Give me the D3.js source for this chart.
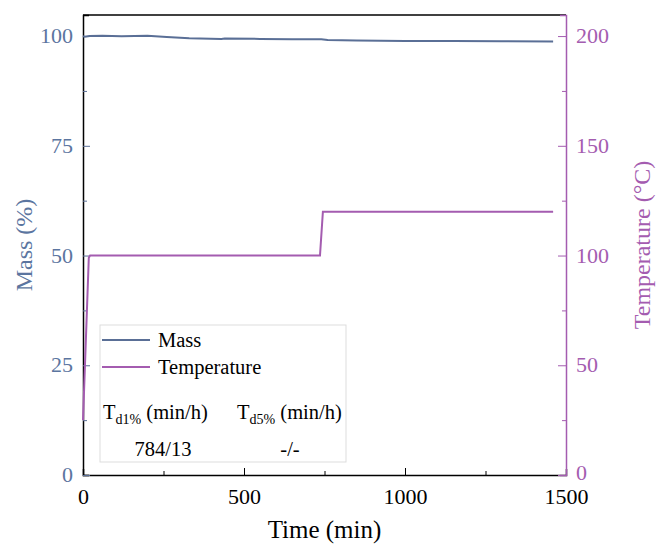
<!DOCTYPE html>
<html>
<head>
<meta charset="utf-8">
<script src="https://cdn.jsdelivr.net/npm/d3@7"></script>
<style>
  body { margin: 0; background: #fff; }
  text { font-family: "Liberation Serif", "Times New Roman", serif; }
</style>
</head>
<body>
<div id="viz"></div>
<script>
// series
var massTime = [0, 5, 20, 60, 120, 200, 260, 330, 430, 440, 550, 650, 740, 760, 850, 1000, 1150, 1300, 1460],
    massVal = [100.0, 99.85, 100.0, 100.1, 99.95, 100.05, 99.8, 99.5, 99.35, 99.45, 99.35, 99.3, 99.25, 99.1, 99.0, 98.9, 98.85, 98.8, 98.75],
    tempTime = [0, 18, 22, 736, 745, 1460],
    tempVal = [25, 99, 100, 100, 120, 120],
    xTicks = [0, 500, 1000, 1500],
    massTicks = [0, 25, 50, 75, 100],
    tempTicks = [0, 50, 100, 150, 200];

var W = 656, H = 545,
    m = { left: 83, right: 90, top: 15, bottom: 70 },
    iw = W - m.left - m.right, ih = H - m.top - m.bottom,
    blue = '#5a6f96', blueTxt = '#5b75a0', purple = '#a45cb0';

var svg = d3.select('#viz').append('svg').attr('width', W).attr('height', H);
var g = svg.append('g').attr('transform', 'translate(' + m.left + ',' + m.top + ')');

var x = d3.scaleLinear().domain([0, 1500]).range([0, iw]),
    yM = d3.scaleLinear().domain([0, 104.8]).range([ih, 0]),
    yT = d3.scaleLinear().domain([0, 209.6]).range([ih, 0]);

// frame top
g.append('line').attr('x1', 0).attr('x2', iw).attr('y1', 0).attr('y2', 0)
    .attr('stroke', '#000').attr('stroke-width', 1.5);

// bottom axis
var xAx = g.append('g').attr('transform', 'translate(0,' + ih + ')');
xAx.call(d3.axisBottom(x).tickValues(d3.range(0, 1501, 250)).tickSize(-6).tickFormat(''));
xAx.selectAll('.tick line').attr('y2', function (d) { return d % 500 ? -4 : -7; });
xAx.selectAll('.tick').filter(function (d) { return xTicks.indexOf(d) >= 0; }).append('text')
    .attr('y', 29).attr('text-anchor', 'middle').attr('fill', '#000')
    .style('font-size', '22px').text(function (d) { return d; });

// left axis
var lAx = g.append('g');
lAx.call(d3.axisLeft(yM).tickValues(d3.range(0, 101, 12.5)).tickSize(-6).tickFormat(''));
lAx.selectAll('.tick line').attr('stroke', blue).attr('x2', function (d) { return d % 25 ? 4 : 7; });
lAx.selectAll('.tick').filter(function (d) { return massTicks.indexOf(d) >= 0; }).append('text')
    .attr('x', -10).attr('dy', '0.3em').attr('text-anchor', 'end').attr('fill', blueTxt)
    .style('font-size', '22px').text(function (d) { return d; });

// right axis
var rAx = g.append('g').attr('transform', 'translate(' + iw + ',0)');
rAx.call(d3.axisRight(yT).tickValues(d3.range(0, 201, 25)).tickSize(-6).tickFormat(''));
rAx.selectAll('.tick line').attr('stroke', purple).attr('x2', function (d) { return d % 50 ? -4 : -8; });
rAx.selectAll('.tick').filter(function (d) { return tempTicks.indexOf(d) >= 0; }).append('text')
    .attr('x', 10).attr('dy', function (d) { return d === 0 ? '0.2em' : '0.3em'; })
    .attr('text-anchor', 'start').attr('fill', purple)
    .style('font-size', '22px').text(function (d) { return d; });

xAx.select('.domain').attr('stroke', '#000').attr('stroke-width', 1.5);
lAx.select('.domain').attr('stroke', '#000').attr('stroke-width', 1.5);
rAx.select('.domain').attr('stroke', purple).attr('stroke-width', 1.5);

// lines
var mLine = d3.line().x(function (d, i) { return x(massTime[i]); }).y(function (d) { return yM(d); }),
    tLine = d3.line().x(function (d, i) { return x(tempTime[i]); }).y(function (d) { return yT(d); });

g.append('path').attr('d', tLine(tempVal)).attr('fill', 'none').attr('stroke', purple).attr('stroke-width', 2);
g.append('path').attr('d', mLine(massVal)).attr('fill', 'none').attr('stroke', blue).attr('stroke-width', 2);

// legend box
var lg = svg.append('g').attr('transform', 'translate(100,325)');
lg.append('rect').attr('width', 246).attr('height', 137).attr('fill', '#fff').attr('stroke', '#ddd');
lg.append('line').attr('x1', 2).attr('x2', 50).attr('y1', 15).attr('y2', 15).attr('stroke', blue).attr('stroke-width', 2);
lg.append('text').attr('x', 58).attr('y', 22).style('font-size', '20.5px').text('Mass');
lg.append('line').attr('x1', 2).attr('x2', 50).attr('y1', 42).attr('y2', 42).attr('stroke', purple).attr('stroke-width', 2);
lg.append('text').attr('x', 58).attr('y', 49).style('font-size', '20.5px').text('Temperature');

function tdLabel(tx, sub) {
    var t = lg.append('text').attr('x', tx).attr('y', 94).style('font-size', '20.5px');
    t.append('tspan').text('T');
    t.append('tspan').attr('dy', 5).style('font-size', '14px').text(sub);
    t.append('tspan').attr('dy', -5).text(' (min/h)');
}
tdLabel(3, 'd1%');
tdLabel(137, 'd5%');
lg.append('text').attr('x', 63).attr('y', 131).attr('text-anchor', 'middle').style('font-size', '20.5px').text('784/13');
lg.append('text').attr('x', 190).attr('y', 131).attr('text-anchor', 'middle').style('font-size', '20.5px').text('-/-');

// axis titles
svg.append('text').attr('x', m.left + iw / 2).attr('y', 538).attr('text-anchor', 'middle')
    .style('font-size', '25px').text('Time (min)');
svg.append('text').attr('transform', 'translate(32,245) rotate(-90)').attr('text-anchor', 'middle')
    .attr('fill', blueTxt).style('font-size', '24px').text('Mass (%)');
svg.append('text').attr('transform', 'translate(650,245) rotate(-90)').attr('text-anchor', 'middle')
    .attr('fill', purple).style('font-size', '24px').text('Temperature (°C)');
</script>
</body>
</html>
